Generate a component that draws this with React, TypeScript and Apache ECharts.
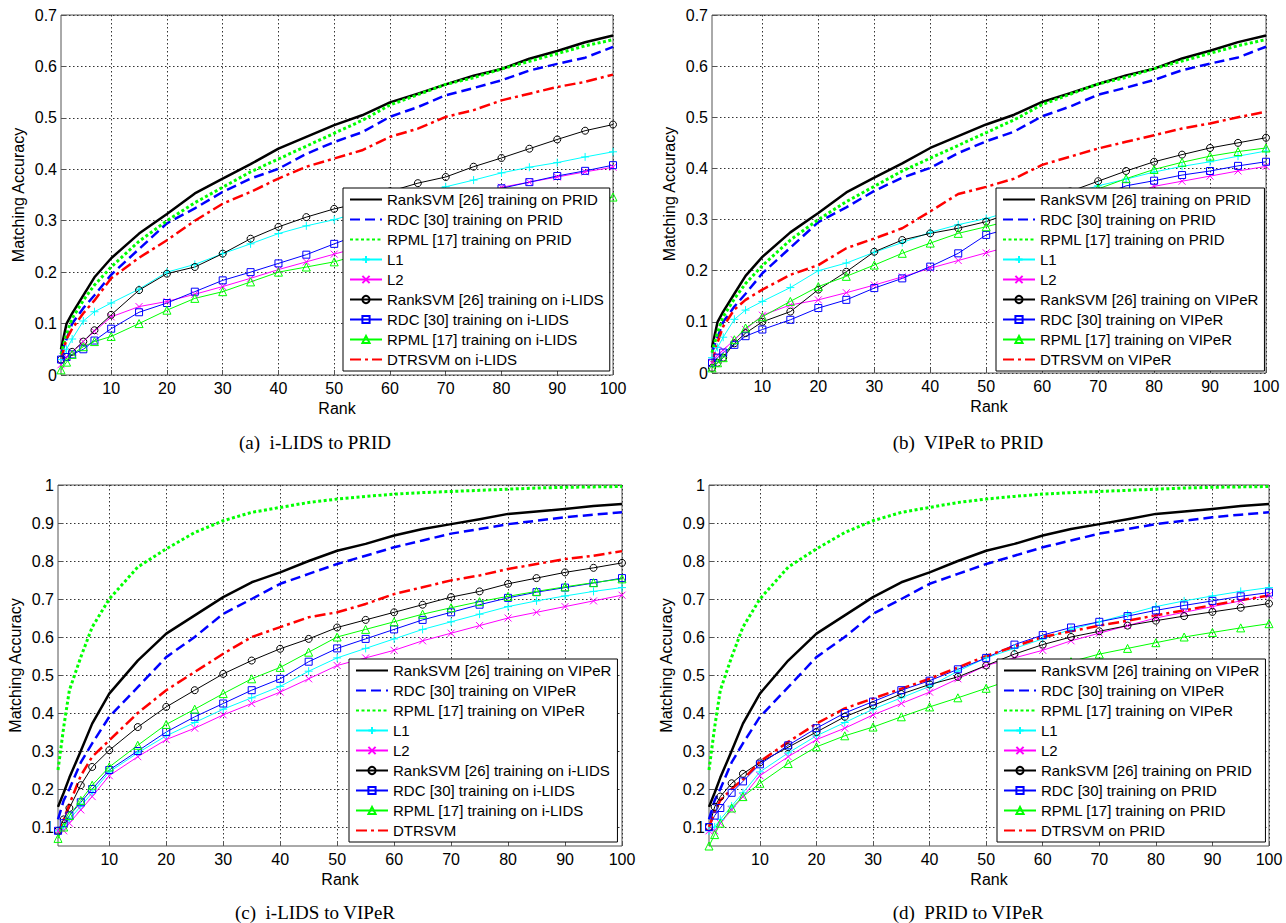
import React, { useEffect, useRef } from "react";
import * as echarts from "echarts";

// ---------- data ----------
const RANKS = [1, 2, 3, 5, 7, 10, 15, 20, 25, 30, 35, 40, 45, 50, 55, 60, 65, 70, 75, 80, 85, 90, 95, 100];
const X_TICKS = [10, 20, 30, 40, 50, 60, 70, 80, 90, 100];
const Y_TICKS_LOW = [0, 0.1, 0.2, 0.3, 0.4, 0.5, 0.6, 0.7];
const Y_TICKS_HIGH = [0.1, 0.2, 0.3, 0.4, 0.5, 0.6, 0.7, 0.8, 0.9, 1];

// tested on PRID (panels a, b)
const rankSvmPrid = [0.05, 0.1, 0.12, 0.155, 0.19, 0.227, 0.275, 0.313, 0.353, 0.382, 0.41, 0.44, 0.463, 0.486, 0.505, 0.53, 0.547, 0.565, 0.582, 0.595, 0.615, 0.63, 0.647, 0.66];
const rdcPrid = [0.04, 0.07, 0.1, 0.13, 0.155, 0.195, 0.245, 0.295, 0.324, 0.356, 0.382, 0.401, 0.43, 0.453, 0.472, 0.502, 0.521, 0.544, 0.558, 0.573, 0.592, 0.605, 0.617, 0.638];
const rpmlPrid = [0.04, 0.08, 0.11, 0.145, 0.175, 0.21, 0.26, 0.3, 0.335, 0.365, 0.395, 0.42, 0.445, 0.47, 0.495, 0.525, 0.545, 0.565, 0.578, 0.595, 0.61, 0.625, 0.64, 0.652];
const l1Prid = [0.03, 0.05, 0.07, 0.105, 0.123, 0.14, 0.167, 0.2, 0.215, 0.236, 0.255, 0.275, 0.29, 0.302, 0.318, 0.335, 0.35, 0.366, 0.379, 0.393, 0.404, 0.413, 0.424, 0.434];
const l2Prid = [0.02, 0.035, 0.045, 0.065, 0.085, 0.113, 0.133, 0.143, 0.157, 0.172, 0.188, 0.205, 0.22, 0.235, 0.25, 0.27, 0.295, 0.32, 0.345, 0.365, 0.375, 0.385, 0.395, 0.404];
// panel a: trained on i-LIDS
const rankSvmIlidsA = [0.03, 0.035, 0.045, 0.065, 0.087, 0.117, 0.165, 0.197, 0.21, 0.236, 0.265, 0.288, 0.307, 0.323, 0.335, 0.357, 0.373, 0.385, 0.405, 0.422, 0.44, 0.458, 0.475, 0.487];
const rdcIlidsA = [0.03, 0.035, 0.04, 0.05, 0.067, 0.09, 0.122, 0.14, 0.162, 0.184, 0.2, 0.217, 0.234, 0.255, 0.275, 0.295, 0.315, 0.335, 0.35, 0.363, 0.375, 0.387, 0.397, 0.408];
const rpmlIlidsA = [0.01, 0.025, 0.04, 0.055, 0.065, 0.075, 0.1, 0.126, 0.149, 0.162, 0.181, 0.2, 0.21, 0.22, 0.235, 0.25, 0.265, 0.28, 0.295, 0.307, 0.318, 0.328, 0.337, 0.346];
const dtrIlidsA = [0.03, 0.07, 0.09, 0.12, 0.145, 0.188, 0.228, 0.262, 0.3, 0.333, 0.356, 0.382, 0.405, 0.421, 0.437, 0.463, 0.479, 0.502, 0.515, 0.534, 0.547, 0.56, 0.57, 0.584];
// panel b: trained on VIPeR
const rankSvmViperB = [0.01, 0.02, 0.03, 0.058, 0.078, 0.1, 0.12, 0.163, 0.198, 0.237, 0.26, 0.273, 0.283, 0.296, 0.315, 0.335, 0.355, 0.375, 0.395, 0.413, 0.427, 0.44, 0.45, 0.46];
const rdcViperB = [0.02, 0.03, 0.04, 0.055, 0.072, 0.085, 0.104, 0.127, 0.143, 0.166, 0.185, 0.208, 0.234, 0.27, 0.285, 0.3, 0.32, 0.345, 0.366, 0.376, 0.387, 0.395, 0.405, 0.413];
const rpmlViperB = [0.01, 0.02, 0.03, 0.065, 0.088, 0.11, 0.14, 0.169, 0.189, 0.211, 0.234, 0.254, 0.273, 0.286, 0.3, 0.32, 0.34, 0.36, 0.38, 0.398, 0.412, 0.424, 0.433, 0.44];
const dtrViperB = [0.02, 0.06, 0.091, 0.124, 0.143, 0.163, 0.192, 0.211, 0.244, 0.263, 0.283, 0.316, 0.35, 0.364, 0.38, 0.407, 0.423, 0.439, 0.452, 0.465, 0.478, 0.488, 0.5, 0.511];

// tested on VIPeR (panels c, d)
const rankSvmViper = [0.153, 0.19, 0.23, 0.3, 0.372, 0.451, 0.538, 0.609, 0.657, 0.705, 0.744, 0.77, 0.8, 0.827, 0.845, 0.867, 0.884, 0.897, 0.91, 0.924, 0.93, 0.937, 0.945, 0.95];
const rdcViper = [0.12, 0.17, 0.2, 0.27, 0.32, 0.39, 0.468, 0.547, 0.6, 0.661, 0.7, 0.74, 0.766, 0.792, 0.814, 0.836, 0.854, 0.872, 0.884, 0.897, 0.906, 0.915, 0.922, 0.928];
const rpmlViper = [0.25, 0.363, 0.46, 0.547, 0.626, 0.7, 0.784, 0.832, 0.875, 0.906, 0.928, 0.941, 0.954, 0.963, 0.97, 0.976, 0.98, 0.983, 0.986, 0.989, 0.992, 0.994, 0.995, 0.996];
const l1Viper = [0.09, 0.1, 0.12, 0.155, 0.19, 0.245, 0.295, 0.34, 0.375, 0.41, 0.44, 0.47, 0.51, 0.545, 0.57, 0.595, 0.62, 0.64, 0.66, 0.68, 0.695, 0.708, 0.72, 0.73];
const l2Viper = [0.09, 0.09, 0.11, 0.145, 0.18, 0.235, 0.285, 0.33, 0.36, 0.395, 0.425, 0.455, 0.49, 0.525, 0.545, 0.565, 0.59, 0.61, 0.63, 0.65, 0.665, 0.68, 0.695, 0.71];
// panel c: trained on i-LIDS
const rankSvmIlidsC = [0.09, 0.12, 0.15, 0.21, 0.258, 0.302, 0.363, 0.416, 0.46, 0.503, 0.538, 0.569, 0.595, 0.625, 0.645, 0.665, 0.685, 0.705, 0.72, 0.74, 0.755, 0.77, 0.782, 0.795];
const rdcIlidsC = [0.09, 0.11, 0.13, 0.165, 0.2, 0.25, 0.3, 0.35, 0.39, 0.425, 0.46, 0.49, 0.535, 0.57, 0.595, 0.62, 0.645, 0.665, 0.685, 0.703, 0.718, 0.73, 0.742, 0.755];
const rpmlIlidsC = [0.07, 0.1, 0.13, 0.17, 0.21, 0.258, 0.315, 0.37, 0.41, 0.451, 0.49, 0.52, 0.56, 0.6, 0.62, 0.64, 0.66, 0.677, 0.693, 0.707, 0.72, 0.732, 0.743, 0.753];
const dtrC = [0.08, 0.12, 0.16, 0.235, 0.285, 0.328, 0.4, 0.46, 0.508, 0.556, 0.6, 0.626, 0.652, 0.665, 0.687, 0.713, 0.731, 0.749, 0.762, 0.779, 0.792, 0.805, 0.814, 0.826];
// panel d: trained on PRID
const rankSvmPridD = [0.1, 0.153, 0.18, 0.215, 0.24, 0.27, 0.31, 0.35, 0.39, 0.42, 0.45, 0.475, 0.495, 0.525, 0.555, 0.58, 0.6, 0.615, 0.63, 0.643, 0.655, 0.666, 0.677, 0.688];
const rdcPridD = [0.1, 0.13, 0.15, 0.19, 0.22, 0.265, 0.315, 0.36, 0.4, 0.43, 0.46, 0.485, 0.515, 0.545, 0.58, 0.605, 0.625, 0.64, 0.655, 0.67, 0.683, 0.695, 0.707, 0.717];
const rpmlPridD = [0.05, 0.08, 0.11, 0.15, 0.18, 0.215, 0.267, 0.311, 0.34, 0.363, 0.39, 0.416, 0.44, 0.465, 0.49, 0.515, 0.535, 0.555, 0.57, 0.585, 0.6, 0.612, 0.624, 0.635];
const dtrPridD = [0.1, 0.14, 0.17, 0.2, 0.225, 0.272, 0.324, 0.372, 0.412, 0.438, 0.464, 0.49, 0.52, 0.55, 0.575, 0.6, 0.615, 0.63, 0.643, 0.657, 0.67, 0.684, 0.697, 0.709];

// ---------- styles ----------
const FONT = "'Liberation Sans', Arial, Helvetica, sans-serif";
const SERIF = "'Liberation Serif', 'Times New Roman', serif";

const STYLES: Record<string, any> = {
  solid: { color: "#000000", width: 2.5, dash: "solid" },
  dashed: { color: "#0000ff", width: 2.5, dash: [10, 5] },
  dotted: { color: "#00ff00", width: 3, dash: [3, 2.5] },
  dashDot: { color: "#ff0000", width: 2.5, dash: [11, 4, 3, 4] },
  plus: { color: "#00ffff", width: 1, symbol: "path://M5,0L5,10M0,5L10,5", size: 8 },
  cross: { color: "#ff00ff", width: 1, symbol: "path://M0,0L10,10M10,0L0,10", size: 7 },
  circle: { color: "#000000", width: 1, symbol: "circle", size: 7 },
  square: { color: "#0000ff", width: 1, symbol: "rect", size: 7 },
  triangle: { color: "#00ff00", width: 1, symbol: "triangle", size: 8 },
};

const PANELS = [
  {
    key: "a",
    caption: "(a)\u00a0 i-LIDS to PRID",
    yMin: 0, yMax: 0.7, yTicks: Y_TICKS_LOW,
    grid: { left: 61, top: 15, width: 552, height: 360 },
    legendPos: { left: 343, top: 188 },
    captionPos: [315, 442],
    series: [
      { name: "RankSVM [26] training on PRID", style: "solid", values: rankSvmPrid },
      { name: "RDC [30] training on PRID", style: "dashed", values: rdcPrid },
      { name: "RPML [17] training on PRID", style: "dotted", values: rpmlPrid },
      { name: "L1", style: "plus", values: l1Prid },
      { name: "L2", style: "cross", values: l2Prid },
      { name: "RankSVM [26] training on i-LIDS", style: "circle", values: rankSvmIlidsA },
      { name: "RDC [30] training on i-LIDS", style: "square", values: rdcIlidsA },
      { name: "RPML [17] training on i-LIDS", style: "triangle", values: rpmlIlidsA },
      { name: "DTRSVM on i-LIDS", style: "dashDot", values: dtrIlidsA },
    ],
  },
  {
    key: "b",
    caption: "(b)\u00a0 VIPeR to PRID",
    yMin: 0, yMax: 0.7, yTicks: Y_TICKS_LOW,
    grid: { left: 712, top: 15, width: 554, height: 358 },
    legendPos: { left: 996, top: 188 },
    captionPos: [968, 442],
    series: [
      { name: "RankSVM [26] training on PRID", style: "solid", values: rankSvmPrid },
      { name: "RDC [30] training on PRID", style: "dashed", values: rdcPrid },
      { name: "RPML [17] training on PRID", style: "dotted", values: rpmlPrid },
      { name: "L1", style: "plus", values: l1Prid },
      { name: "L2", style: "cross", values: l2Prid },
      { name: "RankSVM [26] training on VIPeR", style: "circle", values: rankSvmViperB },
      { name: "RDC [30] training on VIPeR", style: "square", values: rdcViperB },
      { name: "RPML [17] training on VIPeR", style: "triangle", values: rpmlViperB },
      { name: "DTRSVM on VIPeR", style: "dashDot", values: dtrViperB },
    ],
  },
  {
    key: "c",
    caption: "(c)\u00a0 i-LIDS to VIPeR",
    yMin: 0.05, yMax: 1, yTicks: Y_TICKS_HIGH,
    grid: { left: 58, top: 485, width: 564, height: 361 },
    legendPos: { left: 349, top: 659 },
    captionPos: [315, 912],
    series: [
      { name: "RankSVM [26] training on VIPeR", style: "solid", values: rankSvmViper },
      { name: "RDC [30] training on VIPeR", style: "dashed", values: rdcViper },
      { name: "RPML [17] training on VIPeR", style: "dotted", values: rpmlViper },
      { name: "L1", style: "plus", values: l1Viper },
      { name: "L2", style: "cross", values: l2Viper },
      { name: "RankSVM [26] training on i-LIDS", style: "circle", values: rankSvmIlidsC },
      { name: "RDC [30] training on i-LIDS", style: "square", values: rdcIlidsC },
      { name: "RPML [17] training on i-LIDS", style: "triangle", values: rpmlIlidsC },
      { name: "DTRSVM", style: "dashDot", values: dtrC },
    ],
  },
  {
    key: "d",
    caption: "(d)\u00a0 PRID to VIPeR",
    yMin: 0.05, yMax: 1, yTicks: Y_TICKS_HIGH,
    grid: { left: 709, top: 485, width: 560, height: 361 },
    legendPos: { left: 997, top: 659 },
    captionPos: [968, 912],
    series: [
      { name: "RankSVM [26] training on VIPeR", style: "solid", values: rankSvmViper },
      { name: "RDC [30] training on VIPeR", style: "dashed", values: rdcViper },
      { name: "RPML [17] training on VIPeR", style: "dotted", values: rpmlViper },
      { name: "L1", style: "plus", values: l1Viper },
      { name: "L2", style: "cross", values: l2Viper },
      { name: "RankSVM [26] training on PRID", style: "circle", values: rankSvmPridD },
      { name: "RDC [30] training on PRID", style: "square", values: rdcPridD },
      { name: "RPML [17] training on PRID", style: "triangle", values: rpmlPridD },
      { name: "DTRSVM on PRID", style: "dashDot", values: dtrPridD },
    ],
  },
];

function fmtY(v: number) {
  if (Math.abs(v) < 1e-9) return "0";
  if (Math.abs(v - 1) < 1e-9) return "1";
  return (Math.round(v * 10) / 10).toFixed(1);
}

function buildOption() {
  const grids: any[] = [];
  const xAxes: any[] = [];
  const yAxes: any[] = [];
  const legends: any[] = [];
  const series: any[] = [];
  const graphics: any[] = [];

  PANELS.forEach((p, idx) => {
    grids.push({
      ...p.grid,
      show: true,
      borderColor: "#555555",
      borderWidth: 1,
      backgroundColor: "#ffffff",
      containLabel: false,
    });
    // main axes (bottom / left)
    xAxes.push({
      type: "value",
      gridIndex: idx,
      min: 1,
      max: 100,
      name: "Rank",
      nameLocation: "middle",
      nameGap: 25,
      nameTextStyle: { fontFamily: FONT, fontSize: 16, color: "#000" },
      axisLine: { show: false },
      axisTick: { show: true, inside: true, length: 5, customValues: X_TICKS, lineStyle: { color: "#555" } },
      axisLabel: { customValues: X_TICKS, fontFamily: FONT, fontSize: 16, color: "#000", margin: 5 },
      splitLine: { show: true, lineStyle: { type: [1.5, 2.5], color: "#333333", width: 1 } },
    });
    yAxes.push({
      type: "value",
      gridIndex: idx,
      min: p.yMin,
      max: p.yMax,
      name: "Matching Accuracy",
      nameLocation: "middle",
      nameGap: 35,
      nameTextStyle: { fontFamily: FONT, fontSize: 16, color: "#000" },
      axisLine: { show: false },
      axisTick: { show: true, inside: true, length: 5, customValues: p.yTicks, lineStyle: { color: "#555" } },
      axisLabel: { customValues: p.yTicks, formatter: fmtY, fontFamily: FONT, fontSize: 16, color: "#000", margin: 4 },
      splitLine: { show: true, lineStyle: { type: [1.5, 2.5], color: "#333333", width: 1 } },
    });

    const names: string[] = [];
    p.series.forEach((s) => {
      const st = STYLES[s.style];
      const fullName = p.key + "|" + s.name;
      const hasSymbol = !!st.symbol;
      names.push(fullName);
      series.push({
        type: "line",
        name: fullName,
        xAxisIndex: idx,
        yAxisIndex: idx,
        data: RANKS.map((r, i) => [r, s.values[i]]),
        symbol: hasSymbol ? st.symbol : "none",
        symbolSize: hasSymbol ? st.size : 0,
        showSymbol: hasSymbol,
        symbolKeepAspect: true,
        lineStyle: { color: st.color, width: st.width, type: st.dash || "solid", cap: "butt", join: "round" },
        itemStyle: hasSymbol
          ? { color: "rgba(0,0,0,0)", borderColor: st.color, borderWidth: 1 }
          : { color: "rgba(0,0,0,0)", borderColor: "rgba(0,0,0,0)", borderWidth: 0 },
        emphasis: { disabled: true },
        silent: true,
        animation: false,
      });
    });

    legends.push({
      data: names,
      formatter: (n: string) => n.slice(2),
      orient: "vertical",
      left: p.legendPos.left,
      top: p.legendPos.top,
      itemWidth: 32,
      itemHeight: 9,
      itemGap: 5,
      padding: [4, 6, 4, 6],
      borderColor: "#000000",
      borderWidth: 1,
      borderRadius: 0,
      backgroundColor: "#ffffff",
      selectedMode: false,
      textStyle: { fontFamily: FONT, fontSize: 15, lineHeight: 15, color: "#000" },
    });

    graphics.push({
      type: "text",
      x: p.captionPos[0],
      y: p.captionPos[1],
      style: {
        text: p.caption,
        font: "19px " + SERIF,
        fill: "#000",
        textAlign: "center",
        textVerticalAlign: "middle",
      },
      silent: true,
    });
  });

  return {
    animation: false,
    backgroundColor: "#ffffff",
    grid: grids,
    xAxis: xAxes,
    yAxis: yAxes,
    legend: legends,
    series,
    graphic: graphics,
  };
}

export default function App() {
  const ref = useRef<HTMLDivElement | null>(null);
  useEffect(() => {
    if (!ref.current) return;
    const chart = echarts.init(ref.current, null, { renderer: "svg" });
    chart.setOption(buildOption() as any);
    return () => chart.dispose();
  }, []);
  return (
    <div
      ref={ref}
      style={{ position: "absolute", left: 0, top: 0, width: 1286, height: 923, background: "#fff" }}
    />
  );
}
